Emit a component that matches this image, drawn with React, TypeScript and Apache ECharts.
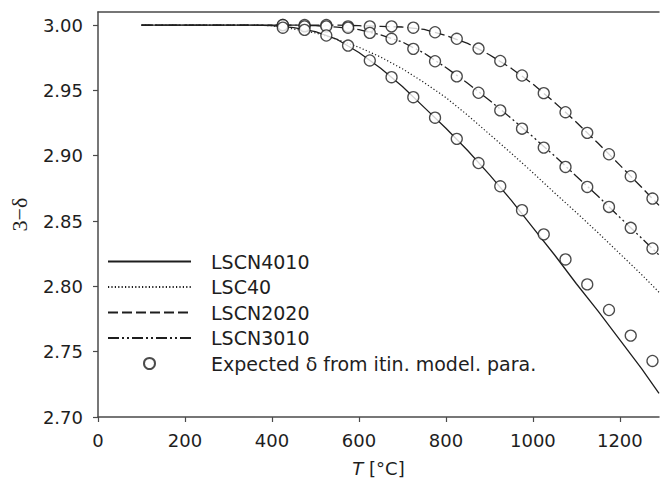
import React, { useEffect, useRef } from 'react';
import * as echarts from 'echarts';

const lineT = [100, 200, 300, 350, 400, 450, 500, 550, 600, 650, 700, 750, 800, 850, 900, 950, 1000, 1050, 1100, 1150, 1200, 1250, 1290];
const lscn4010 = [3.0, 3.0, 3.0, 3.0, 2.9995, 2.998, 2.995, 2.989, 2.979, 2.967, 2.953, 2.937, 2.921, 2.904, 2.8855, 2.866, 2.845, 2.824, 2.802, 2.781, 2.759, 2.737, 2.718];
const lsc40 = [3.0, 3.0, 3.0, 3.0, 2.9995, 2.997, 2.994, 2.989, 2.983, 2.9755, 2.9665, 2.956, 2.9445, 2.931, 2.9165, 2.902, 2.887, 2.8715, 2.8565, 2.841, 2.825, 2.809, 2.7955];
const lscn2020 = [3.0, 3.0, 3.0, 3.0, 3.0, 3.0, 3.0, 3.0, 2.9995, 2.999, 2.9985, 2.9967, 2.992, 2.986, 2.9773, 2.967, 2.9548, 2.9408, 2.9256, 2.9095, 2.8928, 2.8758, 2.862];
const lscn3010 = [3.0, 3.0, 3.0, 3.0, 3.0, 3.0, 2.9995, 2.9985, 2.9965, 2.9925, 2.987, 2.9785, 2.9675, 2.9555, 2.9425, 2.9287, 2.9145, 2.8998, 2.8843, 2.869, 2.8528, 2.8369, 2.824];

const expT = [425, 475, 525, 575, 625, 675, 725, 775, 825, 875, 925, 975, 1025, 1075, 1125, 1175, 1225, 1275];
const exp2020 = [3.0, 3.0, 3.0, 2.999, 2.999, 2.999, 2.998, 2.9945, 2.9895, 2.982, 2.9725, 2.9614, 2.9479, 2.9333, 2.9175, 2.9011, 2.8843, 2.8672];
const exp3010 = [3.0, 2.999, 2.999, 2.998, 2.994, 2.9895, 2.9818, 2.9723, 2.9607, 2.9482, 2.9347, 2.9207, 2.9062, 2.8914, 2.8761, 2.8608, 2.8448, 2.829];
const exp4010 = [2.998, 2.9963, 2.992, 2.9843, 2.9729, 2.9601, 2.9448, 2.9291, 2.9129, 2.8944, 2.8766, 2.8583, 2.8398, 2.8206, 2.8015, 2.7819, 2.7623, 2.7429];

const xTicks = [0, 200, 400, 600, 800, 1000, 1200];
const yTicks = [2.7, 2.75, 2.8, 2.85, 2.9, 2.95, 3.0];

const lineNames = ['LSCN4010', 'LSC40', 'LSCN2020', 'LSCN3010'];
const EXP_NAME = 'Expected δ from itin. model. para.';
const zip = (xs: number[], ys: number[]) => xs.map((x, i) => [x, ys[i]]);

const SANS = 'DejaVu Sans';
const INK = '#1e1e1e';
const AXIS = '#4a4a4a';

function lineSeries(name: string, ys: number[], type: any, width = 1.3) {
  return {
    name,
    type: 'line',
    data: zip(lineT, ys),
    symbol: 'none',
    showSymbol: false,
    lineStyle: { color: INK, width, type },
    itemStyle: { color: INK },
    z: 2,
  };
}

function expSeries(ys: number[]) {
  return {
    name: EXP_NAME,
    type: 'scatter',
    data: zip(expT, ys),
    symbol: 'circle',
    symbolSize: 11,
    itemStyle: { color: '#ffffff', borderColor: INK, borderWidth: 1.3 },
    z: 5,
  };
}

export default function App() {
  const ref = useRef<HTMLDivElement>(null);
  useEffect(() => {
    const chart = echarts.init(ref.current!, null, { renderer: 'svg' });
    chart.setOption({
      animation: false,
      backgroundColor: '#ffffff',
      grid: { left: 97, top: 12, width: 562, bottom: 64.5, containLabel: false },
      legend: {
        orient: 'vertical',
        left: 102,
        top: 247,
        itemWidth: 83,
        itemHeight: 11,
        itemGap: 6.5,
        selectedMode: false,
        data: [
          ...lineNames.map((n) => ({ name: n, itemStyle: { opacity: 0 } })),
          { name: EXP_NAME },
        ],
        textStyle: { fontFamily: SANS, fontSize: 19, color: INK, padding: [0, 0, 0, 15] },
      },
      xAxis: [
        {
          type: 'value',
          min: 0,
          max: 1290,
          interval: 200,
          name: '{i|T} [°C]',
          nameLocation: 'middle',
          nameGap: 42,
          nameTextStyle: {
            fontFamily: SANS,
            fontSize: 18,
            color: INK,
            rich: { i: { fontStyle: 'italic', fontFamily: SANS, fontSize: 18, color: INK } },
          },
          axisLine: { show: true, onZero: false, lineStyle: { color: AXIS, width: 1.5 } },
          axisTick: { show: true, inside: false, length: 5, customValues: xTicks, lineStyle: { color: AXIS, width: 1.2 } },
          axisLabel: {
            customValues: xTicks,
            margin: 14,
            fontFamily: SANS,
            fontSize: 18,
            color: INK,
            formatter: (v: number) => String(Math.round(v)),
          },
          splitLine: { show: false },
        },
        {
          type: 'value',
          position: 'top',
          min: 0,
          max: 1290,
          axisLine: { show: true, onZero: false, lineStyle: { color: AXIS, width: 1.5 } },
          axisTick: { show: false },
          axisLabel: { show: false },
          splitLine: { show: false },
        },
      ],
      yAxis: {
        type: 'value',
        min: 2.7,
        max: 3.01,
        name: '3−δ',
        nameLocation: 'middle',
        nameRotate: 90,
        nameGap: 68,
        nameTextStyle: { fontFamily: 'Liberation Serif', fontSize: 22, color: INK },
        axisLine: { show: true, onZero: false, lineStyle: { color: AXIS, width: 1.5 } },
        axisTick: { show: true, inside: false, length: 5, customValues: yTicks, lineStyle: { color: AXIS, width: 1.2 } },
        axisLabel: {
          customValues: yTicks,
          margin: 15,
          fontFamily: SANS,
          fontSize: 18,
          color: INK,
          formatter: (v: number) => v.toFixed(2),
        },
        splitLine: { show: false },
      },
      series: [
        lineSeries('LSCN4010', lscn4010, 'solid', 1.3),
        lineSeries('LSC40', lsc40, [1.2, 2.2], 1.2),
        lineSeries('LSCN2020', lscn2020, [10, 4], 1.3),
        lineSeries('LSCN3010', lscn3010, [11, 3, 2, 3, 2, 3], 1.3),
        expSeries(exp2020),
        expSeries(exp3010),
        expSeries(exp4010),
      ],
    });
    return () => chart.dispose();
  }, []);
  return (
    <div
      ref={ref}
      style={{ position: 'absolute', left: 0, top: 0, width: 660, height: 482, background: '#ffffff' }}
    />
  );
}
